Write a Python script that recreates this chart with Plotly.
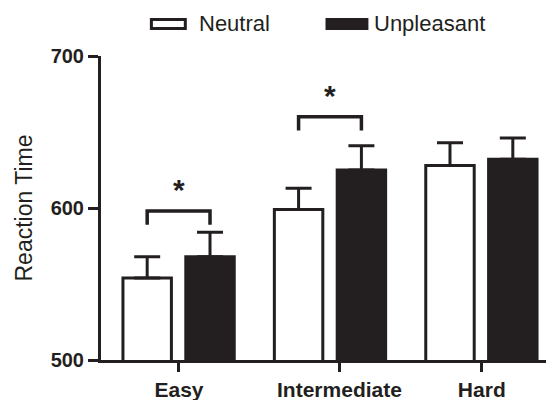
import plotly.graph_objects as go

# ---- data ----
categories = ["Easy", "Intermediate", "Hard"]
neutral = [554, 599, 628]
neutral_se = [14, 14, 15]
unpleasant = [568, 625, 632]
unpleasant_se = [16, 16, 14]
y_ticks = [500, 600, 700]
sig_categories = ["Easy", "Intermediate"]
sig_levels = [598, 660]

FONT = "Liberation Sans, Arial, sans-serif"
INK = "#231f20"

x_idx = list(range(len(categories)))
W = 0.32
OFF_N = -0.37
OFF_U = 0.045

fig = go.Figure()
fig.add_trace(go.Bar(
    x=x_idx, y=neutral, base=0, width=W, offset=OFF_N, name="Neutral",
    marker=dict(color="white", line=dict(color=INK, width=3)),
    error_y=dict(type="data", symmetric=False, array=neutral_se,
                 arrayminus=[0] * len(neutral), color=INK, thickness=3, width=13),
))
fig.add_trace(go.Bar(
    x=x_idx, y=unpleasant, base=0, width=W, offset=OFF_U, name="Unpleasant",
    marker=dict(color=INK, line=dict(color=INK, width=3)),
    error_y=dict(type="data", symmetric=False, array=unpleasant_se,
                 arrayminus=[0] * len(unpleasant), color=INK, thickness=3, width=13),
))

# significance brackets
leg = 9
for cat, lvl in zip(sig_categories, sig_levels):
    i = categories.index(cat)
    xl = i + OFF_N + W / 2
    xr = i + OFF_U + W / 2
    fig.add_trace(go.Scatter(
        x=[xl, xl, xr, xr], y=[lvl - leg, lvl, lvl, lvl - leg],
        mode="lines", line=dict(color=INK, width=3.5), showlegend=False,
        hoverinfo="skip",
    ))
    fig.add_annotation(x=(xl + xr) / 2, y=lvl + 14, text="<b>*</b>",
                       showarrow=False, font=dict(family=FONT, size=30, color=INK),
                       xref="x", yref="y")

# custom legend (positions in screen pixels, converted to paper coords)
def px_x(p):
    return (p - 100) / 454
def px_y(p):
    return (360 - p) / 304

fig.add_shape(type="rect", xref="paper", yref="paper",
              x0=px_x(150.5), x1=px_x(184.5), y0=px_y(28.5), y1=px_y(19.5),
              line=dict(color=INK, width=3), fillcolor="white")
fig.add_shape(type="rect", xref="paper", yref="paper",
              x0=px_x(326.5), x1=px_x(366.5), y0=px_y(28.5), y1=px_y(19.5),
              line=dict(color=INK, width=3), fillcolor=INK)
fig.add_annotation(xref="paper", yref="paper", x=px_x(196), y=px_y(24),
                   xanchor="left", yanchor="middle", text="Neutral", showarrow=False,
                   font=dict(family=FONT, size=22, color=INK))
fig.add_annotation(xref="paper", yref="paper", x=px_x(372), y=px_y(24),
                   xanchor="left", yanchor="middle", text="Unpleasant", showarrow=False,
                   font=dict(family=FONT, size=22, color=INK))

# page body has an 8px default margin; compensate in the figure margins
fig.update_layout(
    width=554, height=400,
    margin=dict(l=93, r=8, t=48, b=48, autoexpand=False),
    paper_bgcolor="white", plot_bgcolor="white",
    barmode="overlay", showlegend=False,
    font=dict(family=FONT, color=INK),
)
fig.update_xaxes(
    range=[-0.515, 2.477], tickvals=[0, 1.06, 2], ticktext=categories,
    showline=True, linewidth=3, linecolor=INK, ticks="outside", ticklen=9,
    tickwidth=3, tickcolor=INK, showgrid=False, zeroline=False, automargin=False,
    tickfont=dict(family=FONT, size=21, color=INK, weight="bold"),
)
fig.update_yaxes(
    range=[500, 700], tickvals=y_ticks, ticktext=[str(v) for v in y_ticks],
    showline=True, linewidth=3, linecolor=INK, ticks="outside", ticklen=10,
    tickwidth=3, tickcolor=INK, showgrid=False, zeroline=False, automargin=False,
    tickfont=dict(family=FONT, size=20, color=INK, weight="bold"),
    title=dict(text="Reaction Time", standoff=12,
               font=dict(family=FONT, size=23, color=INK)),
)

fig.write_html("out.html")
